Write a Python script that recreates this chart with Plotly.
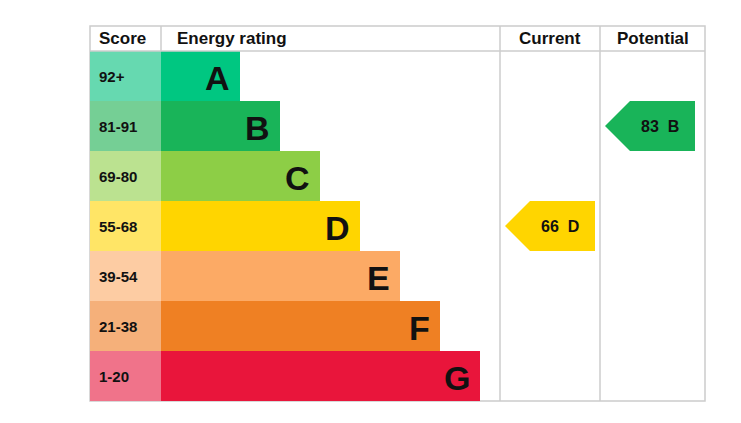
import plotly.graph_objects as go

bands = ["A", "B", "C", "D", "E", "F", "G"]
scores = ["92+", "81-91", "69-80", "55-68", "39-54", "21-38", "1-20"]
lower = [92, 81, 69, 55, 39, 21, 1]
bar_colors = ["#00c781", "#19b459", "#8dce46", "#ffd500", "#fcaa65", "#ef8023", "#e9153b"]
score_colors = ["#66d9b0", "#75cf95", "#bbe290", "#ffe566", "#fdcca3", "#f5b07a", "#f0738a"]
bar_len = [79, 119, 159, 199, 239, 279, 319]
current = 66
potential = 83

FONT = "Liberation Sans, Arial"
x0, xs, xc, xp, x1 = 82, 153, 492, 592, 697
top, head, row_h = 18, 43, 50
centers = [head + row_h * (i + 0.5) for i in range(len(bands))]

def band_of(v):
    for i, lo in enumerate(lower):
        if v >= lo:
            return i
    return len(lower) - 1

fig = go.Figure()
fig.add_trace(go.Bar(orientation="h", y=centers, x=[xs - x0] * 7, base=x0, width=row_h,
                     marker=dict(color=score_colors, line_width=0), hoverinfo="skip"))
fig.add_trace(go.Bar(orientation="h", y=centers, x=bar_len, base=xs, width=row_h,
                     marker=dict(color=bar_colors, line_width=0), hoverinfo="skip"))

ann = []
for i in range(7):
    ann.append(dict(x=x0 + 7, y=centers[i], text=f"<b>{scores[i]}</b>", xanchor="left",
                    showarrow=False, font=dict(size=15, color="#111", family=FONT)))
    ann.append(dict(x=xs + bar_len[i] - 8, y=centers[i] + 2, text=f"<b>{bands[i]}</b>",
                    xanchor="right", showarrow=False, font=dict(size=34, color="#111", family=FONT)))
for x, t, a in [(x0 + 7, "Score", "left"), (xs + 14, "Energy rating", "left"),
                ((xc + xp) / 2, "Current", "center"), ((xp + x1) / 2, "Potential", "center")]:
    ann.append(dict(x=x, y=(top + head) / 2, text=f"<b>{t}</b>", xanchor=a, showarrow=False,
                    font=dict(size=17, color="#111", family=FONT)))

shapes = [dict(type="rect", x0=x0, x1=x1, y0=top, y1=head + 7 * row_h,
               line=dict(color="#cccccc", width=1.5), layer="below"),
          dict(type="line", x0=x0, x1=x1, y0=head, y1=head, line=dict(color="#cccccc", width=1.5)),
          dict(type="line", x0=xs, x1=xs, y0=top, y1=head, line=dict(color="#cccccc", width=1.5))]
for xv in (xc, xp):
    shapes.append(dict(type="line", x0=xv, x1=xv, y0=top, y1=head + 7 * row_h,
                       line=dict(color="#cccccc", width=1.5)))

for val, colx in [(current, xc), (potential, xp)]:
    b = band_of(val)
    yc = centers[b]
    t, s, r = colx + 5, colx + 30, colx + 95
    shapes.append(dict(type="path",
                       path=f"M{t},{yc} L{s},{yc-25} L{r},{yc-25} L{r},{yc+25} L{s},{yc+25} Z",
                       fillcolor=bar_colors[b], line_width=0))
    ann.append(dict(x=(s + r) / 2 - 3, y=yc, text=f"<b>{val}  {bands[b]}</b>", showarrow=False,
                    font=dict(size=16, color="#111", family=FONT)))

fig.update_layout(width=741, height=423, margin=dict(l=0, r=0, t=0, b=0),
                  plot_bgcolor="white", paper_bgcolor="white", showlegend=False,
                  barmode="overlay", bargap=0, annotations=ann, shapes=shapes,
                  xaxis=dict(range=[0, 741], visible=False, fixedrange=True),
                  yaxis=dict(range=[423, 0], visible=False, fixedrange=True))
fig.write_html("out.html")
